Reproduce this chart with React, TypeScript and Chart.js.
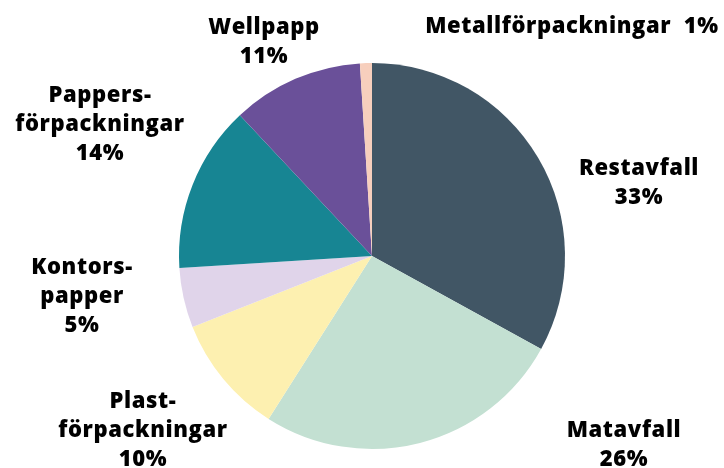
import React, { useEffect, useRef } from "react";
import { Chart, registerables } from "chart.js";

Chart.register(...registerables);

const categories = [
  "Restavfall",
  "Matavfall",
  "Plastförpackningar",
  "Kontorspapper",
  "Pappersförpackningar",
  "Wellpapp",
  "Metallförpackningar",
];
const shares = [33, 26, 10, 5, 14, 11, 1];
const displayLines = [
  ["Restavfall", "33%"],
  ["Matavfall", "26%"],
  ["Plast-", "förpackningar", "10%"],
  ["Kontors-", "papper", "5%"],
  ["Pappers-", "förpackningar", "14%"],
  ["Wellpapp", "11%"],
  ["Metallförpackningar  1%"],
];
const colors = ["#415665", "#c3e0d2", "#fdf0b0", "#e0d4ea", "#178593", "#6a5099", "#f7cfbd"];
// label block centre, offset from pie centre (px)
const labelOffsets = [
  [267, -73],
  [252, 189],
  [-229, 175],
  [-290, 41],
  [-272, -131],
  [-108, -214],
  [200, -229],
];

const FONT = "800 22px 'Open Sans', sans-serif";
const LINE_H = 29;

const labelPlugin = {
  id: "outerLabels",
  afterDatasetsDraw(chart: any) {
    const ctx = chart.ctx;
    const meta = chart.getDatasetMeta(0);
    ctx.save();
    ctx.font = FONT;
    try {
      ctx.letterSpacing = "0.6px";
    } catch (e) {}
    ctx.fillStyle = "#000000";
    ctx.textAlign = "center";
    ctx.textBaseline = "middle";
    meta.data.forEach((arc: any, i: number) => {
      const lines = displayLines[i];
      const [ox, oy] = labelOffsets[i];
      const cx = arc.x + ox;
      const cy = arc.y + oy;
      const startY = cy - ((lines.length - 1) * LINE_H) / 2;
      lines.forEach((t, j) => ctx.fillText(t, cx, startY + j * LINE_H));
    });
    ctx.restore();
  },
};

export default function App() {
  const ref = useRef<HTMLCanvasElement>(null);
  useEffect(() => {
    if (!ref.current) return;
    const chart = new Chart(ref.current, {
      type: "pie",
      data: {
        labels: categories,
        datasets: [
          {
            data: shares,
            backgroundColor: colors,
            borderWidth: 0,
            radius: 193,
          } as any,
        ],
      },
      options: {
        animation: false,
        responsive: true,
        maintainAspectRatio: false,
        layout: { padding: { left: 20, right: 0, top: 44, bottom: 0 } },
        plugins: {
          legend: { display: false },
          tooltip: { enabled: false },
        },
      },
      plugins: [labelPlugin],
    });
    return () => chart.destroy();
  }, []);
  return (
    <div style={{ position: "fixed", left: 0, top: 0, width: 724, height: 468, background: "#fff" }}>
      <canvas ref={ref} />
    </div>
  );
}
